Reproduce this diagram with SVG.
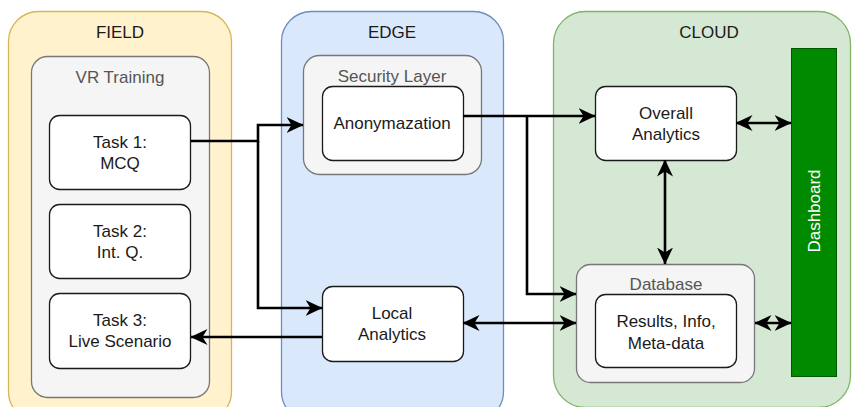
<svg xmlns="http://www.w3.org/2000/svg" width="853" height="407" viewBox="0 0 853 407">
  <style>
    text { font-family: "Liberation Sans", Arial, sans-serif; font-size: 17px; text-anchor: middle; dominant-baseline: central; fill: #1a1a1a; }
    .sub { fill: #555555; }
    .zone-field { fill: #fff2cc; stroke: #d6b656; stroke-width: 1.3; }
    .zone-edge { fill: #dae8fc; stroke: #6c8ebf; stroke-width: 1.3; }
    .zone-cloud { fill: #d5e8d4; stroke: #82b366; stroke-width: 1.3; }
    .group { fill: #f5f5f5; stroke: #777777; stroke-width: 1.3; }
    .box { fill: #ffffff; stroke: #1a1a1a; stroke-width: 1.3; }
    .dash { fill: #008a00; stroke: #005700; stroke-width: 1; }
    .wire { fill: none; stroke: #000000; stroke-width: 2.6; }
  </style>
  <defs>
    <marker id="arrow" viewBox="0 0 17 16" markerWidth="17" markerHeight="16" refX="16.5" refY="8" orient="auto-start-reverse" markerUnits="userSpaceOnUse">
      <path d="M0,0 L17,8 L0,16 L5,8 z" fill="#000000"/>
    </marker>
  </defs>

  <rect width="853" height="407" fill="#ffffff"/>

  <!-- FIELD zone -->
  <g id="field">
    <rect class="zone-field" x="8.5" y="11.5" width="223" height="410" rx="30"/>
    <text x="120" y="32">FIELD</text>
  </g>
  <g id="vr-training">
    <rect class="group" x="31.5" y="56.5" width="178" height="341" rx="16"/>
    <text class="sub" x="120" y="77">VR Training</text>
  </g>
  <g id="task1">
    <rect class="box" x="49.5" y="115.5" width="141" height="74" rx="10"/>
    <text x="120" y="142">Task 1:</text>
    <text x="120" y="163">MCQ</text>
  </g>
  <g id="task2">
    <rect class="box" x="49.5" y="204.5" width="141" height="74" rx="10"/>
    <text x="120" y="231">Task 2:</text>
    <text x="120" y="252">Int. Q.</text>
  </g>
  <g id="task3">
    <rect class="box" x="49.5" y="293.5" width="141" height="75" rx="10"/>
    <text x="120" y="320">Task 3:</text>
    <text x="120" y="341">Live Scenario</text>
  </g>

  <!-- EDGE zone -->
  <g id="edge">
    <rect class="zone-edge" x="281.5" y="11.5" width="222" height="410" rx="30"/>
    <text x="392" y="32">EDGE</text>
  </g>
  <g id="security-layer">
    <rect class="group" x="303.5" y="55.5" width="178" height="119" rx="16"/>
    <text class="sub" x="392" y="76">Security Layer</text>
  </g>
  <g id="anonymization">
    <rect class="box" x="322.5" y="86.5" width="141" height="74" rx="10"/>
    <text x="392" y="123">Anonymazation</text>
  </g>
  <g id="local-analytics">
    <rect class="box" x="322.5" y="286.5" width="141" height="75" rx="10"/>
    <text x="392" y="313">Local</text>
    <text x="392" y="334">Analytics</text>
  </g>

  <!-- CLOUD zone -->
  <g id="cloud">
    <rect class="zone-cloud" x="553.5" y="11.5" width="297" height="396" rx="32"/>
    <text x="709" y="32">CLOUD</text>
  </g>
  <g id="overall-analytics">
    <rect class="box" x="595.5" y="86.5" width="141" height="74" rx="10"/>
    <text x="666" y="113">Overall</text>
    <text x="666" y="134">Analytics</text>
  </g>
  <g id="database">
    <rect class="group" x="576.5" y="264.5" width="178" height="118" rx="14"/>
    <text class="sub" x="666" y="284">Database</text>
  </g>
  <g id="results">
    <rect class="box" x="595.5" y="294.5" width="141" height="73" rx="10"/>
    <text x="666" y="321">Results, Info,</text>
    <text x="666" y="343">Meta-data</text>
  </g>
  <g id="dashboard">
    <rect class="dash" x="791.5" y="48.5" width="45" height="328"/>
    <text x="814" y="211" transform="rotate(-90 814 211)" style="fill:#ffffff">Dashboard</text>
  </g>

  <!-- connectors -->
  <g id="connectors">
    <polyline class="wire" points="191,141 258,141 258,125 303,125" marker-end="url(#arrow)"/>
    <polyline class="wire" points="258,141 258,308 322,308" marker-end="url(#arrow)"/>
    <line class="wire" x1="322" y1="337" x2="191" y2="337" marker-end="url(#arrow)"/>
    <line class="wire" x1="463" y1="116" x2="595" y2="116" marker-end="url(#arrow)"/>
    <polyline class="wire" points="527,116 527,294 576,294" marker-end="url(#arrow)"/>
    <line class="wire" x1="463" y1="323" x2="576" y2="323" marker-start="url(#arrow)" marker-end="url(#arrow)"/>
    <line class="wire" x1="736" y1="123" x2="791" y2="123" marker-start="url(#arrow)" marker-end="url(#arrow)"/>
    <line class="wire" x1="665" y1="160" x2="665" y2="264" marker-start="url(#arrow)" marker-end="url(#arrow)"/>
    <line class="wire" x1="755" y1="323" x2="791" y2="323" marker-start="url(#arrow)" marker-end="url(#arrow)"/>
  </g>
</svg>
